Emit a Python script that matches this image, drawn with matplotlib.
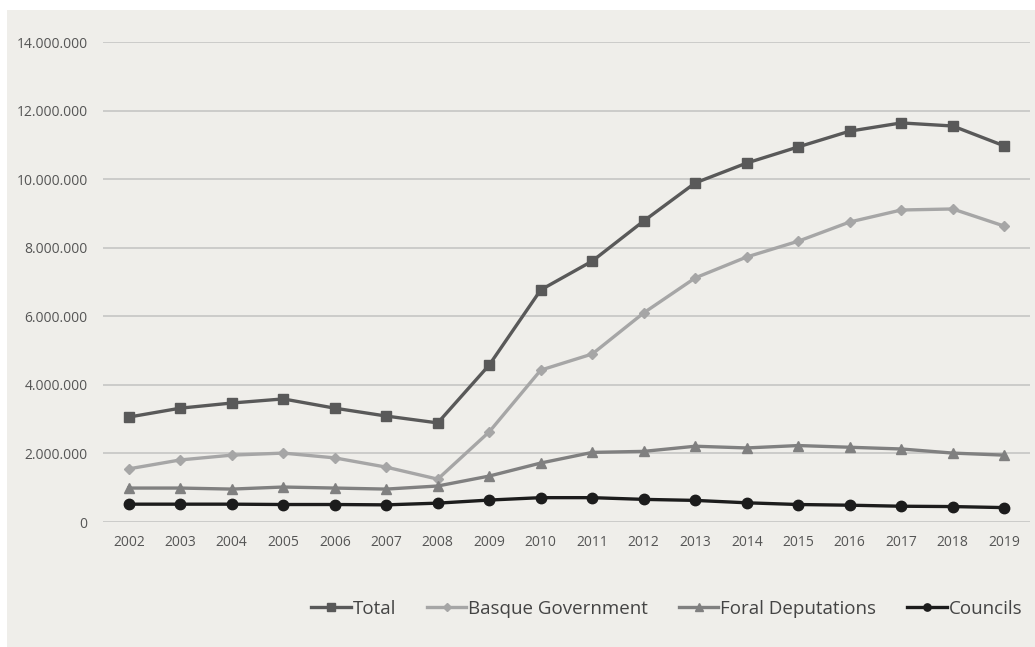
import matplotlib
matplotlib.use("Agg")
import matplotlib.pyplot as plt
from matplotlib.patches import Rectangle
from matplotlib.ticker import FuncFormatter

years = [str(y) for y in range(2002, 2020)]
total = [3.06, 3.32, 3.47, 3.59, 3.32, 3.09, 2.89, 4.58, 6.77, 7.61, 8.78, 9.89,
         10.47, 10.94, 11.40, 11.64, 11.55, 10.97]
basque = [1.55, 1.81, 1.95, 2.01, 1.87, 1.60, 1.25, 2.63, 4.43, 4.90, 6.10, 7.12,
          7.73, 8.19, 8.75, 9.10, 9.13, 8.63]
foral = [0.99, 0.99, 0.96, 1.02, 0.99, 0.96, 1.05, 1.34, 1.72, 2.03, 2.06, 2.21,
         2.16, 2.23, 2.18, 2.13, 2.01, 1.95]
councils = [0.52, 0.52, 0.52, 0.51, 0.51, 0.50, 0.55, 0.64, 0.71, 0.71, 0.66, 0.63,
            0.56, 0.51, 0.49, 0.46, 0.45, 0.42]
series_names = ["Total", "Basque Government", "Foral Deputations", "Councils"]
yticks = [0, 2_000_000, 4_000_000, 6_000_000, 8_000_000, 10_000_000, 12_000_000, 14_000_000]

W, H = 1035, 647
fig = plt.figure(figsize=(W / 100, H / 100), dpi=100)
fig.patch.set_facecolor("white")
bg = "#efeeea"
fig.patches.append(Rectangle((7 / W, 0), 1 - 7 / W, 1 - 10 / H, transform=fig.transFigure,
                             facecolor=bg, edgecolor="none", zorder=-10))

ax = fig.add_axes([103 / W, 1 - 522 / H, (1030 - 103) / W, (522 - 42) / H])
ax.set_facecolor("none")

x = list(range(len(years)))
scale = 1_000_000
styles = [
    (total, "#595959", "s", 7.5),
    (basque, "#a6a6a6", "D", 5.5),
    (foral, "#808080", "^", 7.5),
    (councils, "#1c1c1c", "o", 7.5),
]
for (vals, col, mk, ms), name in zip(styles, series_names):
    ax.plot(x, [v * scale for v in vals], color=col, lw=2.4, marker=mk, ms=ms,
            markerfacecolor=col, markeredgecolor=col, label=name, zorder=3)

ax.set_xlim(-0.5, len(years) - 0.5)
ax.set_ylim(0, 14_000_000)
ax.set_yticks(yticks)
ax.yaxis.set_major_formatter(FuncFormatter(lambda v, p: f"{int(v):,}".replace(",", ".")))
ax.set_xticks(x)
ax.set_xticklabels(years)
ax.grid(axis="y", color="#c9c9c7", lw=1.3, zorder=0)
ax.set_axisbelow(True)
for s in ax.spines.values():
    s.set_visible(False)
ax.tick_params(axis="both", length=0, colors="#555555", labelsize=10)
ax.tick_params(axis="y", pad=11)
ax.tick_params(axis="x", pad=9)
for lab in ax.get_xticklabels() + ax.get_yticklabels():
    lab.set_fontfamily("Open Sans")

leg = fig.legend(loc="center right", bbox_to_anchor=(1022 / W, 1 - 609 / H), ncol=4,
                 frameon=False, prop={"family": "Open Sans", "size": 13.5},
                 handlelength=2.1, handletextpad=0.1, columnspacing=1.65, borderpad=0,
                 borderaxespad=0, markerscale=0.7)
for t in leg.get_texts():
    t.set_color("#444444")

fig.savefig("out.png", dpi=100, facecolor=fig.get_facecolor())
